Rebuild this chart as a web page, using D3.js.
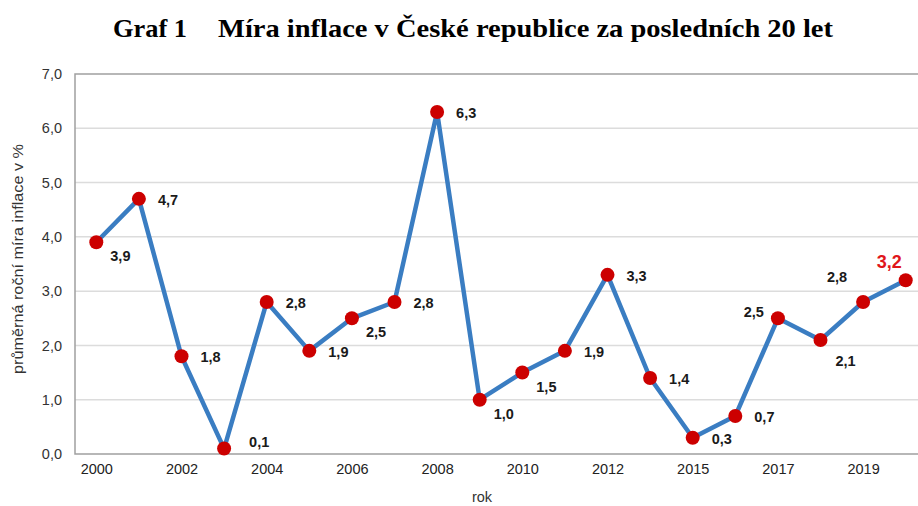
<!DOCTYPE html>
<html>
<head>
<meta charset="utf-8">
<script src="https://cdn.jsdelivr.net/npm/d3@7"></script>
<style>
  body { margin: 0; background: #fff; }
  svg { display: block; }
</style>
</head>
<body>
<svg></svg>
<script>
// roky (2014 v grafu chybi)
var years = ["2000","2001","2002","2003","2004","2005","2006","2007","2008","2009",
             "2010","2011","2012","2013","2015","2016","2017","2018","2019","2020"]
var inflation = [3.9, 4.7, 1.8, 0.1, 2.8, 1.9, 2.5, 2.8, 6.3, 1.0,
                 1.5, 1.9, 3.3, 1.4, 0.3, 0.7, 2.5, 2.1, 2.8, 3.2]
var shownYears = ["2000","2002","2004","2006","2008","2010","2012","2015","2017","2019"]
var yTicks = [0, 1, 2, 3, 4, 5, 6, 7]
// umisteni popisku u bodu
var labelPlace = ["br","r","r","ur","r","r","br","r","r","br",
                  "br","r","r","r","r","r","ul","bbr","ull","last"]

function main(){
    var width = 918
    var height = 506
    var svg = d3.select('svg').attr("width", width).attr("height", height)
    var font = "'Liberation Sans', Arial, sans-serif"

    var left = 75, top = 74, bottom = 454, right = 927

    var xScale = d3.scalePoint()
        .domain(years)
        .range([left, right])
        .padding(0.5)
    var yScale = d3.scaleLinear()
        .domain([0, 7])
        .range([bottom, top])

    // title
    svg.append("text")
        .attr("x", 113).attr("y", 37)
        .attr("textLength", 74).attr("lengthAdjust", "spacingAndGlyphs")
        .style("font-family", "'Liberation Serif', 'DejaVu Serif', serif")
        .style("font-weight", "bold").style("font-size", "25px")
        .text("Graf 1")
    svg.append("text")
        .attr("x", 218).attr("y", 37)
        .attr("textLength", 615).attr("lengthAdjust", "spacingAndGlyphs")
        .style("font-family", "'Liberation Serif', 'DejaVu Serif', serif")
        .style("font-weight", "bold").style("font-size", "25px")
        .text("Míra inflace v České republice za posledních 20 let")

    // grid
    svg.append("g").selectAll("line")
        .data(yTicks.slice(1, -1))
        .join("line")
        .attr("x1", left).attr("x2", width)
        .attr("y1", d => yScale(d)).attr("y2", d => yScale(d))
        .attr("stroke", "#dcdcdc").attr("stroke-width", 1.5)

    // frame
    svg.append("path")
        .attr("d", "M" + width + "," + top + "H" + left + "V" + bottom + "H" + width)
        .attr("fill", "none").attr("stroke", "#a0a0a0").attr("stroke-width", 1.5)

    // y axis
    var yAxis = d3.axisLeft(yScale)
        .tickValues(yTicks)
        .tickSize(0).tickPadding(13)
        .tickFormat(d => d3.format(".1f")(d).replace(".", ","))
    var gy = svg.append("g").attr("transform", "translate(" + left + ",0)").call(yAxis)
    gy.select(".domain").remove()
    gy.selectAll("text").style("font-family", font).style("font-size", "14.5px").attr("fill", "#333")

    // x axis
    var xAxis = d3.axisBottom(xScale)
        .tickValues(shownYears)
        .tickSize(0).tickPadding(10)
    var gx = svg.append("g").attr("transform", "translate(0," + bottom + ")").call(xAxis)
    gx.select(".domain").remove()
    gx.selectAll("text").style("font-family", font).style("font-size", "14.5px").attr("fill", "#222")

    // axis titles
    svg.append("text")
        .attr("transform", "translate(23,259) rotate(-90)")
        .attr("text-anchor", "middle")
        .attr("textLength", 230).attr("lengthAdjust", "spacingAndGlyphs")
        .style("font-family", font).style("font-size", "15px").attr("fill", "#333")
        .text("průměrná roční míra inflace v %")
    svg.append("text")
        .attr("x", 482).attr("y", 502)
        .attr("text-anchor", "middle")
        .style("font-family", font).style("font-size", "14.5px").attr("fill", "#333")
        .text("rok")

    var data = years.map((y, i) => ({year: y, value: inflation[i], place: labelPlace[i]}))

    // line
    var line = d3.line().x(d => xScale(d.year)).y(d => yScale(d.value))
    svg.append("path")
        .datum(data)
        .attr("d", line)
        .attr("fill", "none")
        .attr("stroke", "#3a7dc2")
        .attr("stroke-width", 4.5)
        .attr("stroke-linejoin", "round")

    // points
    svg.selectAll("circle")
        .data(data)
        .join("circle")
        .attr("cx", d => xScale(d.year))
        .attr("cy", d => yScale(d.value))
        .attr("r", 7)
        .attr("fill", "#cc0000")

    // labels
    var offsets = {
        r:    {dx: 19, dy: 1, anchor: "start"},
        br:   {dx: 14, dy: 14, anchor: "start"},
        bbr:  {dx: 15, dy: 21, anchor: "start"},
        ur:   {dx: 25, dy: -7, anchor: "start"},
        ul:   {dx: -14, dy: -6, anchor: "end"},
        ull:  {dx: -16, dy: -25, anchor: "end"},
        last: {dx: -4, dy: -19, anchor: "end"}
    }
    svg.append("g").selectAll("text")
        .data(data)
        .join("text")
        .attr("x", d => xScale(d.year) + offsets[d.place].dx)
        .attr("y", d => yScale(d.value) + offsets[d.place].dy)
        .attr("dy", "0.35em")
        .attr("text-anchor", d => offsets[d.place].anchor)
        .style("font-family", font)
        .style("font-weight", "bold")
        .style("font-size", d => d.place == "last" ? "18px" : "14.5px")
        .attr("fill", d => d.place == "last" ? "#e0161b" : "#1a1a1a")
        .text(d => d3.format(".1f")(d.value).replace(".", ","))
}
main()
</script>
</body>
</html>
